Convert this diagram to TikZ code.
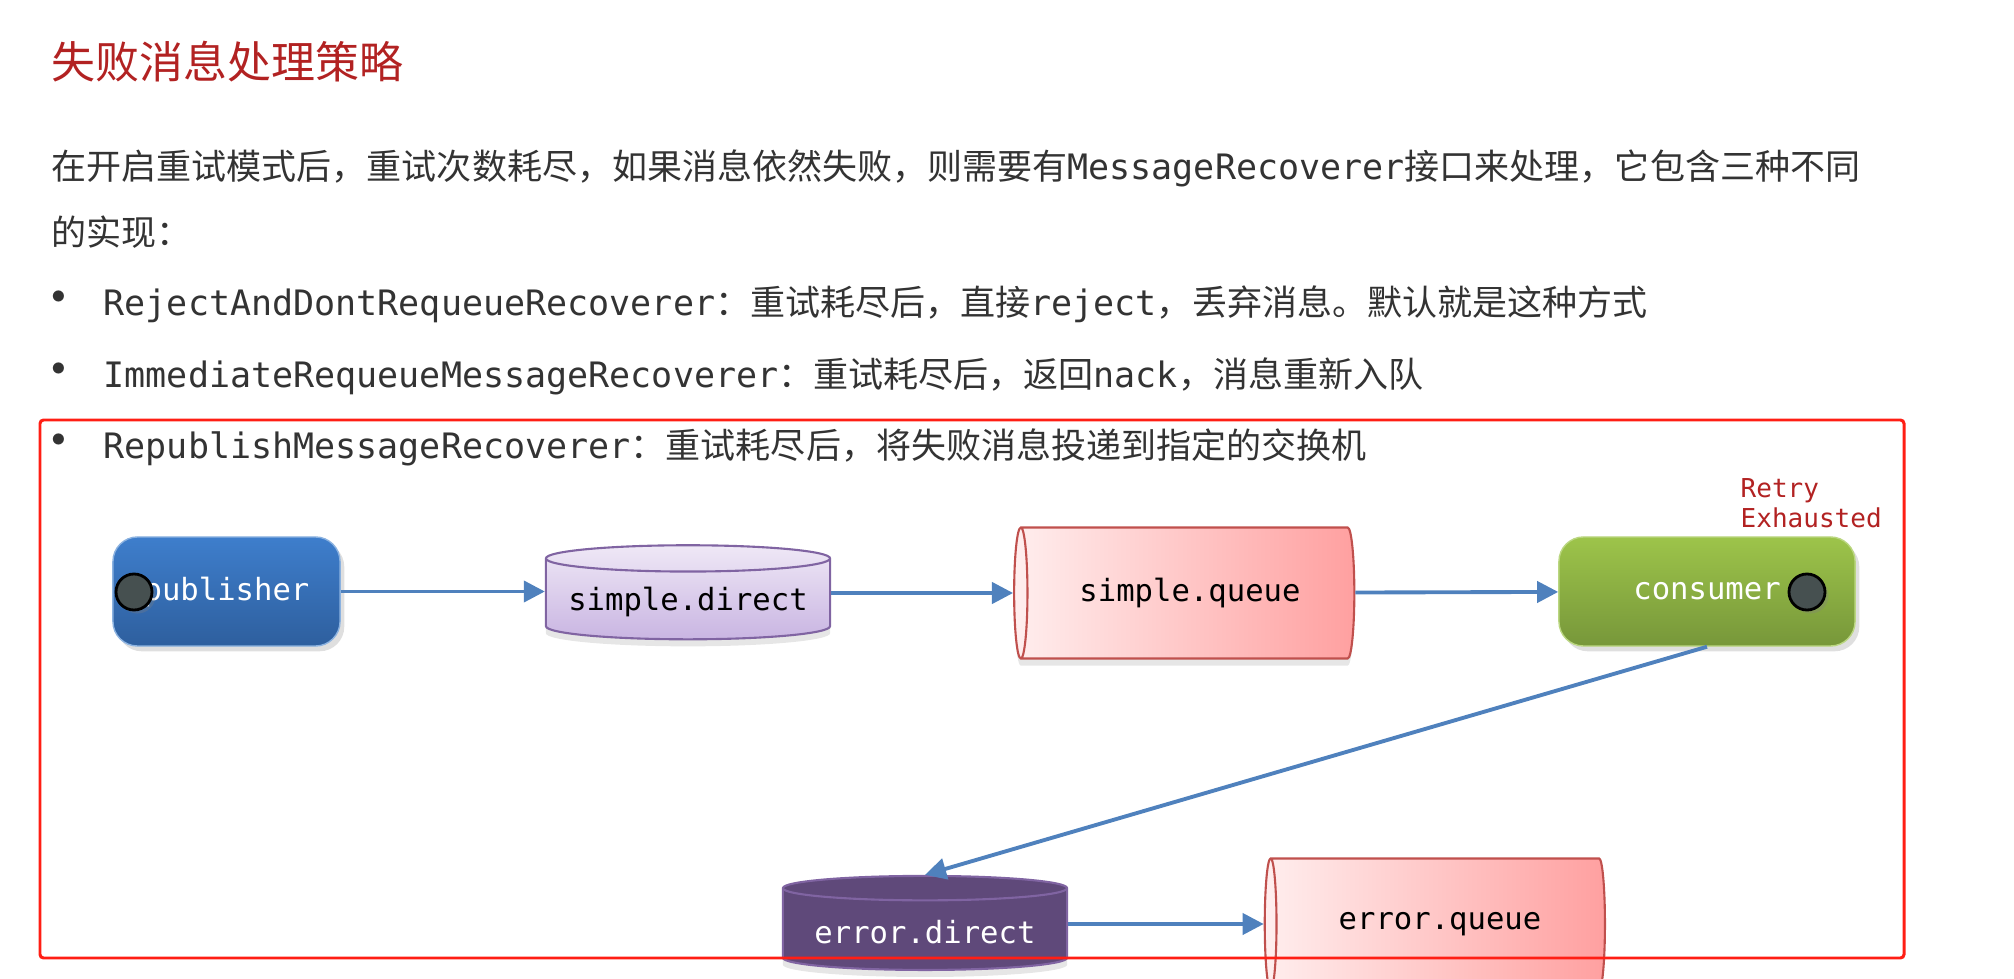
\documentclass[tikz,border=0pt]{standalone}
\usepackage{fontspec}
\setmainfont{Noto Sans CJK SC}
\setmonofont{DejaVu Sans Mono}
\usepackage{tikz}
\usetikzlibrary{shapes.geometric, arrows.meta, shadows}
\definecolor{titlered}{RGB}{178, 34, 34}
\definecolor{bodygray}{RGB}{51, 51, 51}
\definecolor{flowblue}{RGB}{79, 129, 189}
\definecolor{pubtop}{RGB}{62, 126, 204}
\definecolor{pubbot}{RGB}{46, 95, 158}
\definecolor{contop}{RGB}{157, 196, 74}
\definecolor{conbot}{RGB}{119, 151, 58}
\definecolor{lavtop}{RGB}{239, 232, 246}
\definecolor{lavbot}{RGB}{201, 181, 226}
\definecolor{lavline}{RGB}{128, 100, 162}
\definecolor{qleft}{RGB}{255, 238, 238}
\definecolor{qright}{RGB}{255, 160, 160}
\definecolor{qline}{RGB}{192, 80, 77}
\definecolor{errpurple}{RGB}{95, 73, 122}
\definecolor{knobgray}{RGB}{70, 80, 80}
\definecolor{boxred}{RGB}{255, 30, 20}

\begin{document}
\begin{tikzpicture}[x=0.01cm, y=-0.01cm,
  bodytext/.style={anchor=west, text=bodygray, font=\fontsize{9.96}{12}\selectfont, inner sep=0pt},
  bulletdot/.style={text=bodygray, font=\fontsize{15}{15}\selectfont, inner sep=0pt},
  rolebox/.style={rounded corners=7pt, minimum height=1.09cm, text=white, font=\ttfamily\fontsize{8.7}{10}\selectfont, drop shadow={opacity=0.25, shadow xshift=1.2pt, shadow yshift=-1.5pt}},
  exchange/.style={cylinder, shape border rotate=90, shape aspect=0.1, minimum width=2.84cm, minimum height=0.94cm, draw=lavline, line width=0.6pt, font=\ttfamily\fontsize{8.7}{10}\selectfont, drop shadow={opacity=0.2, shadow xshift=0pt, shadow yshift=-2pt}},
  queue/.style={cylinder, shape border rotate=180, shape aspect=0.25, minimum width=1.31cm, minimum height=3.4cm, draw=qline, line width=0.6pt, left color=qleft, right color=qright, font=\ttfamily\fontsize{8.7}{10}\selectfont, drop shadow={opacity=0.2, shadow xshift=0pt, shadow yshift=-2pt}},
  knob/.style={circle, draw=black, fill=knobgray, minimum size=0.36cm, inner sep=0pt, line width=0.8pt, drop shadow={opacity=0.3, shadow xshift=1pt, shadow yshift=-1pt}},
  flow/.style={draw=flowblue, line width=1.1pt, -{Triangle[length=6pt, width=6pt]}}
]
\useasboundingbox (0,0) rectangle (2014,979);

% heading and text
\node[anchor=west, text=titlered, font=\fontsize{12.5}{14}\selectfont, inner sep=0pt] (title) at (51, 62) {失败消息处理策略};
\node[bodytext] (intro1) at (51, 168) {在开启重试模式后，重试次数耗尽，如果消息依然失败，则需要有\texttt{MessageRecoverer}接口来处理，它包含三种不同};
\node[bodytext] (intro2) at (51, 232) {的实现：};
\node[bulletdot] (dot1) at (59, 304) {•};
\node[bodytext] (item1) at (103, 304) {\texttt{RejectAndDontRequeueRecoverer}：重试耗尽后，直接\texttt{reject}，丢弃消息。默认就是这种方式};
\node[bulletdot] (dot2) at (59, 376) {•};
\node[bodytext] (item2) at (103, 376) {\texttt{ImmediateRequeueMessageRecoverer}：重试耗尽后，返回\texttt{nack}，消息重新入队};
\node[bulletdot] (dot3) at (59, 447) {•};
\node[bodytext] (item3) at (103, 447) {\texttt{RepublishMessageRecoverer}：重试耗尽后，将失败消息投递到指定的交换机};

% flow
\node[rolebox, minimum width=2.27cm, top color=pubtop, bottom color=pubbot, draw=pubtop!60!white] (publisher) at (226.5, 591.5) {publisher};
\node[knob] (pubknob) at (134, 592) {};
\node[exchange, top color=lavtop, bottom color=lavbot] (simpledirect) at (688, 602) {simple.direct};
\node[queue] (simplequeue) at (1190, 593) {simple.queue};
\node[rolebox, minimum width=2.96cm, top color=contop, bottom color=conbot, draw=contop!70!white] (consumer) at (1707, 591.5) {consumer};
\node[knob] (conknob) at (1807, 592) {};
\node[anchor=west, align=left, text=titlered, font=\ttfamily\fontsize{7.4}{8.5}\selectfont, inner sep=0pt] (retry) at (1740, 503) {Retry\\Exhausted};
\node[exchange, fill=errpurple, text=white] (errordirect) at (925, 932) {error.direct};
\node[queue] (errorqueue) at (1440, 924) {error.queue};

\draw[flow] (publisher.east) -- (publisher.east -| simpledirect.west);
\draw[flow] (simplequeue.west -| simpledirect.east) -- (simplequeue.west);
\draw[flow] (simplequeue) -- (consumer);
\draw[flow] (consumer.south) -- (errordirect.north);
\draw[flow] (errorqueue.west -| errordirect.east) -- (errorqueue.west);

% highlight frame
\draw[boxred, line width=0.85pt, rounded corners=1pt] (40,420) rectangle (1904,958);
\end{tikzpicture}
\end{document}
